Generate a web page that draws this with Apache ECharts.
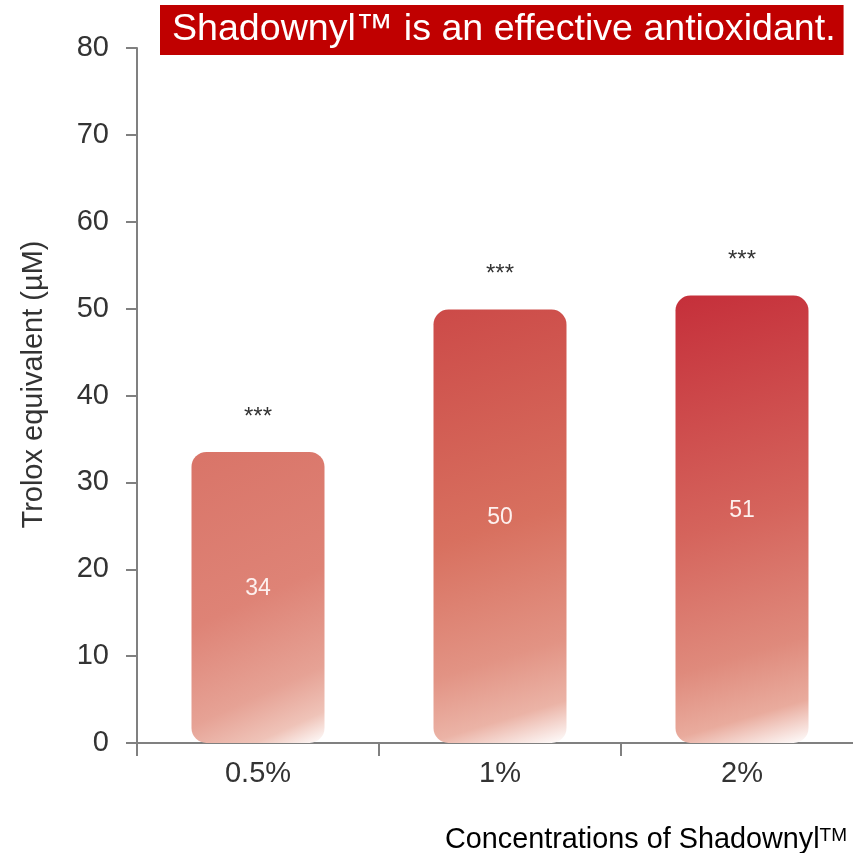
<!DOCTYPE html>
<html>
<head>
<meta charset="utf-8">
<script src="https://cdn.jsdelivr.net/npm/echarts@6/dist/echarts.min.js"></script>
<style>
  html, body { margin: 0; padding: 0; background: #fff; }
  #main { width: 853px; height: 853px; }
</style>
</head>
<body>
<div id="main"></div>
<script>
// data
const categories = ['0.5%', '1%', '2%'];
const values = [33.5, 49.9, 51.5];
const valueLabels = ['34', '50', '51'];
const sigLabels = ['***', '***', '***'];

// gradient stops per bar (top-left -> bottom-right, ends in white)
const gradStops = [0, 0.5, 0.78, 0.91, 1];
const barColors = [
  ['#d97468', '#de8376', '#e6a295', '#efc3b8', '#ffffff'],
  ['#cc4a48', '#d8705f', '#e29384', '#ebb3a6', '#ffffff'],
  ['#c52f3a', '#d5645c', '#df8a7c', '#e9ab9d', '#ffffff']
];

const font = 'Liberation Sans';
const chart = echarts.init(document.getElementById('main'));

const barData = values.map((v, i) => ({
  value: v,
  itemStyle: {
    color: new echarts.graphic.LinearGradient(0, 0, 1, 1,
      gradStops.map((o, k) => ({ offset: o, color: barColors[i][k] })))
  }
}));

chart.setOption({
  animation: false,
  title: {
    text: 'Shadownyl\u2122 is an effective antioxidant.',
    left: 160,
    top: 5,
    backgroundColor: '#c00000',
    padding: [3, 8, 3, 12],
    textStyle: {
      color: '#fff',
      fontFamily: font,
      fontWeight: 'normal',
      fontSize: 37.6,
      lineHeight: 44
    }
  },
  // the last category runs past the right edge of the picture
  grid: { left: 137, width: 726, top: 48, bottom: 110, outerBoundsMode: 'none', containLabel: false },
  xAxis: {
    type: 'category',
    data: categories,
    axisLine: { lineStyle: { color: '#808080', width: 2 } },
    axisTick: { show: true, length: 13, lineStyle: { color: '#808080', width: 2 } },
    axisLabel: { margin: 16, fontSize: 29, color: '#333', fontFamily: font }
  },
  yAxis: {
    type: 'value',
    min: 0,
    max: 80,
    interval: 10,
    name: 'Trolox equivalent (\u00b5M)',
    nameLocation: 'middle',
    nameRotate: 90,
    nameGap: 89,
    nameTextStyle: { fontSize: 29, color: '#333', fontFamily: font, padding: [0, 0, 0, 22] },
    splitLine: { show: false },
    axisLine: { show: true, lineStyle: { color: '#808080', width: 2 } },
    axisTick: { show: true, length: 11, lineStyle: { color: '#808080', width: 2 } },
    axisLabel: { margin: 28, fontSize: 29, color: '#333', fontFamily: font }
  },
  series: [
    {
      type: 'bar',
      data: barData,
      barWidth: 133,
      itemStyle: { borderRadius: 15 },
      label: {
        show: true,
        position: 'inside',
        offset: [0, -9],
        color: '#fdf0ee',
        fontSize: 23,
        fontFamily: font,
        formatter: p => valueLabels[p.dataIndex]
      }
    },
    {
      type: 'bar',
      data: values,
      barWidth: 133,
      barGap: '-100%',
      silent: true,
      itemStyle: { color: 'rgba(0,0,0,0)' },
      label: {
        show: true,
        position: 'top',
        distance: 23,
        color: '#333',
        fontSize: 24,
        fontFamily: font,
        formatter: p => sigLabels[p.dataIndex]
      }
    }
  ],
  graphic: [
    {
      type: 'text',
      left: 445,
      top: 826,
      style: {
        text: '{a|Concentrations of Shadownyl}{b|TM}',
        rich: {
          a: { fontSize: 28.8, color: '#333', fontFamily: font, verticalAlign: 'bottom' },
          b: { fontSize: 19, color: '#333', fontFamily: font, verticalAlign: 'top' }
        }
      }
    }
  ]
});
</script>
</body>
</html>
